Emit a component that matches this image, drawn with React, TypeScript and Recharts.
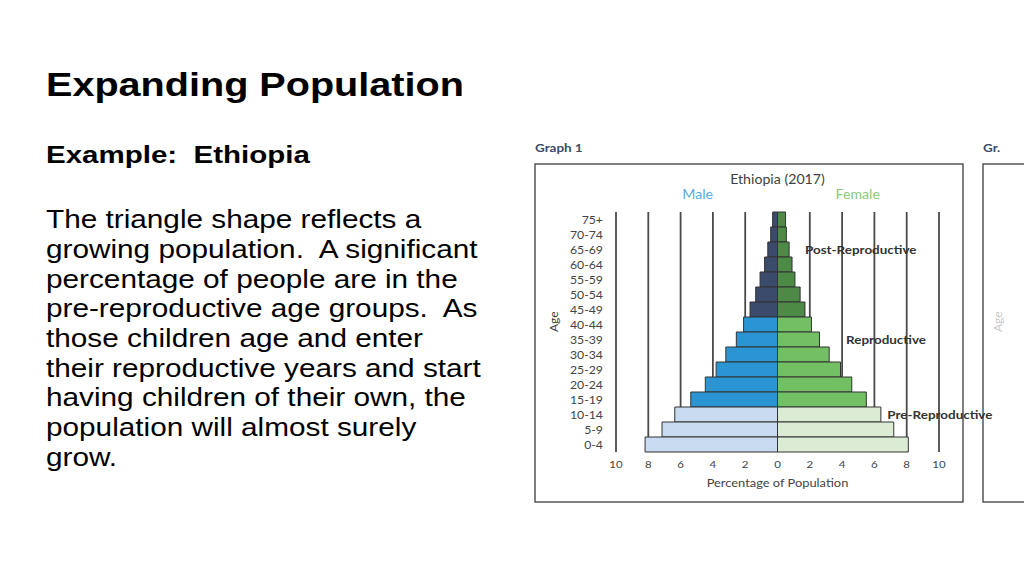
import React from "react";
import {
  BarChart,
  Bar,
  Cell,
  XAxis,
  YAxis,
  CartesianGrid,
  ReferenceDot,
  Label,
} from "recharts";

// ---- data ----
const ages = [
  "75+", "70-74", "65-69", "60-64", "55-59", "50-54", "45-49", "40-44",
  "35-39", "30-34", "25-29", "20-24", "15-19", "10-14", "5-9", "0-4",
];
const maleValues = [0.3, 0.42, 0.6, 0.8, 1.08, 1.35, 1.7, 2.1, 2.55, 3.2, 3.8, 4.47, 5.37, 6.36, 7.15, 8.2];
const femaleValues = [0.5, 0.55, 0.72, 0.9, 1.08, 1.4, 1.7, 2.1, 2.6, 3.2, 3.9, 4.6, 5.5, 6.4, 7.2, 8.1];
const ageGroups = [
  "post", "post", "post", "post", "post", "post", "post",
  "repro", "repro", "repro", "repro", "repro", "repro",
  "pre", "pre", "pre",
];
const xTicks = [-10, -8, -6, -4, -2, 0, 2, 4, 6, 8, 10];
const annotations = [
  { age: "65-69", x: 1.7, text: "Post-Reproductive" },
  { age: "35-39", x: 4.25, text: "Reproductive" },
  { age: "10-14", x: 6.8, text: "Pre-Reproductive" },
];
const bodyLines = [
  "The triangle shape reflects a",
  "growing population.  A significant",
  "percentage of people are in the",
  "pre-reproductive age groups.  As",
  "those children age and enter",
  "their reproductive years and start",
  "having children of their own, the",
  "population will almost surely",
  "grow.",
];

const maleColors: Record<string, string> = {
  post: "#3b4b6c",
  repro: "#2b95d3",
  pre: "#c9dbf0",
};
const femaleColors: Record<string, string> = {
  post: "#4c8a46",
  repro: "#73c064",
  pre: "#dcebd4",
};

const data = ages.map((age, i) => ({
  age,
  male: -maleValues[i],
  female: femaleValues[i],
  group: ageGroups[i],
}));

const LATO = "Lato, 'DejaVu Sans', sans-serif";
const SANS = "'Liberation Sans', Arial, sans-serif";

// text stretched horizontally around its anchor point (the source slide is widened)
function SText(props: any) {
  const { x, y, sx = 1, children, ...rest } = props;
  return (
    <text
      x={x}
      y={y}
      transform={`translate(${x} 0) scale(${sx} 1) translate(${-x} 0)`}
      style={{ whiteSpace: "pre" }}
      {...rest}
    >
      {children}
    </text>
  );
}

const YTick = (p: any) => (
  <SText
    x={p.x}
    y={p.y}
    sx={1.17}
    textAnchor="end"
    dominantBaseline="central"
    fontFamily={LATO}
    fontSize={10.5}
    fill="#444"
  >
    {p.payload.value}
  </SText>
);

const XTick = (p: any) => (
  <SText
    x={p.x}
    y={p.y}
    dy="0.71em"
    sx={1.15}
    textAnchor="middle"
    fontFamily={LATO}
    fontSize={10}
    fill="#444"
  >
    {String(Math.abs(p.payload.value))}
  </SText>
);

const annotationContent = (text: string) => (p: any) => {
  const vb = p.viewBox || {};
  const x = vb.cx !== undefined ? vb.cx : vb.x;
  const y = vb.cy !== undefined ? vb.cy : vb.y + (vb.height || 0) / 2;
  return (
    <SText
      x={x}
      y={y}
      sx={1.12}
      textAnchor="start"
      dominantBaseline="central"
      fontFamily={LATO}
      fontWeight="bold"
      fontSize={12}
      fill="#333"
    >
      {text}
    </SText>
  );
};

export default function App() {
  return (
    <div
      style={{
        position: "absolute",
        left: 0,
        top: 0,
        width: 1024,
        height: 576,
        overflow: "hidden",
        background: "#ffffff",
      }}
    >
      <svg width={1024} height={576} style={{ position: "absolute", left: 0, top: 0 }}>
        <SText x={46} y={96} sx={1.2} fontFamily={SANS} fontWeight="bold" fontSize={33} fill="#000">
          Expanding Population
        </SText>
        <SText x={46} y={163.5} sx={1.23} fontFamily={SANS} fontWeight="bold" fontSize={24} fill="#000">
          {"Example:  Ethiopia"}
        </SText>
        {bodyLines.map((line, i) => (
          <SText key={i} x={46} y={228.3 + i * 29.7} sx={1.19} fontFamily={SANS} fontSize={25} fill="#000">
            {line}
          </SText>
        ))}

        {/* chart frames */}
        <rect x={535} y={164} width={428} height={338} fill="none" stroke="#555" strokeWidth={1.5} />
        <rect x={983} y={164} width={80} height={338} fill="none" stroke="#555" strokeWidth={1.5} />
        <SText x={535} y={152.5} sx={1.12} fontFamily={LATO} fontWeight="bold" fontSize={12} fill="#3b4a6b">
          Graph 1
        </SText>
        <SText x={983} y={152.5} sx={1.12} fontFamily={LATO} fontWeight="bold" fontSize={12} fill="#3b4a6b">
          Gr.
        </SText>
        <SText x={777.5} y={184} sx={1.09} textAnchor="middle" fontFamily={LATO} fontSize={13} fill="#404040">
          Ethiopia (2017)
        </SText>
        <SText x={697.7} y={199.5} sx={1.09} textAnchor="middle" fontFamily={LATO} fontSize={13} fill="#5aade0">
          Male
        </SText>
        <SText x={857.7} y={199.5} sx={1.09} textAnchor="middle" fontFamily={LATO} fontSize={13} fill="#8acb78">
          Female
        </SText>
        <text
          x={553.5}
          y={321.7}
          textAnchor="middle"
          dominantBaseline="central"
          transform="rotate(-90 553.5 321.7)"
          fontFamily={LATO}
          fontSize={12}
          fill="#404040"
        >
          Age
        </text>
        <text
          x={998}
          y={321.7}
          textAnchor="middle"
          dominantBaseline="central"
          transform="rotate(-90 998 321.7)"
          fontFamily={LATO}
          fontSize={12}
          fill="#c8c8c8"
        >
          Age
        </text>
      </svg>

      <BarChart
        width={1024}
        height={576}
        data={data}
        layout="vertical"
        stackOffset="sign"
        barCategoryGap={0}
        margin={{ top: 212, right: 85, bottom: 88, left: 550 }}
        style={{ position: "absolute", left: 0, top: 0 }}
      >
        <CartesianGrid horizontal={false} stroke="#4a4a4a" strokeWidth={1.8} />
        <XAxis
          type="number"
          domain={[-10, 10]}
          ticks={xTicks}
          axisLine={false}
          tickLine={false}
          tickMargin={3}
          height={36}
          tick={XTick}
          interval={0}
        >
          <Label
            content={(p: any) => {
              const vb = p.viewBox;
              const cx = vb.x + vb.width / 2;
              return (
                <SText
                  x={cx}
                  y={vb.y + vb.height - 1}
                  sx={1.12}
                  textAnchor="middle"
                  fontFamily={LATO}
                  fontSize={11.5}
                  fill="#444"
                >
                  Percentage of Population
                </SText>
              );
            }}
          />
        </XAxis>
        <YAxis
          type="category"
          dataKey="age"
          width={66}
          axisLine={false}
          tickLine={false}
          tickMargin={7}
          interval={0}
          tick={YTick}
        />
        <Bar dataKey="male" stackId="a" stroke="#333" strokeWidth={1} isAnimationActive={false}>
          {data.map((d, i) => (
            <Cell key={`m${i}`} fill={maleColors[d.group]} />
          ))}
        </Bar>
        <Bar dataKey="female" stackId="a" stroke="#333" strokeWidth={1} isAnimationActive={false}>
          {data.map((d, i) => (
            <Cell key={`f${i}`} fill={femaleColors[d.group]} />
          ))}
        </Bar>
        {annotations.map((a) => (
          <ReferenceDot
            key={a.text}
            x={a.x}
            y={a.age}
            r={0}
            fill="none"
            stroke="none"
            ifOverflow="visible"
          >
            <Label content={annotationContent(a.text)} />
          </ReferenceDot>
        ))}
      </BarChart>
    </div>
  );
}
